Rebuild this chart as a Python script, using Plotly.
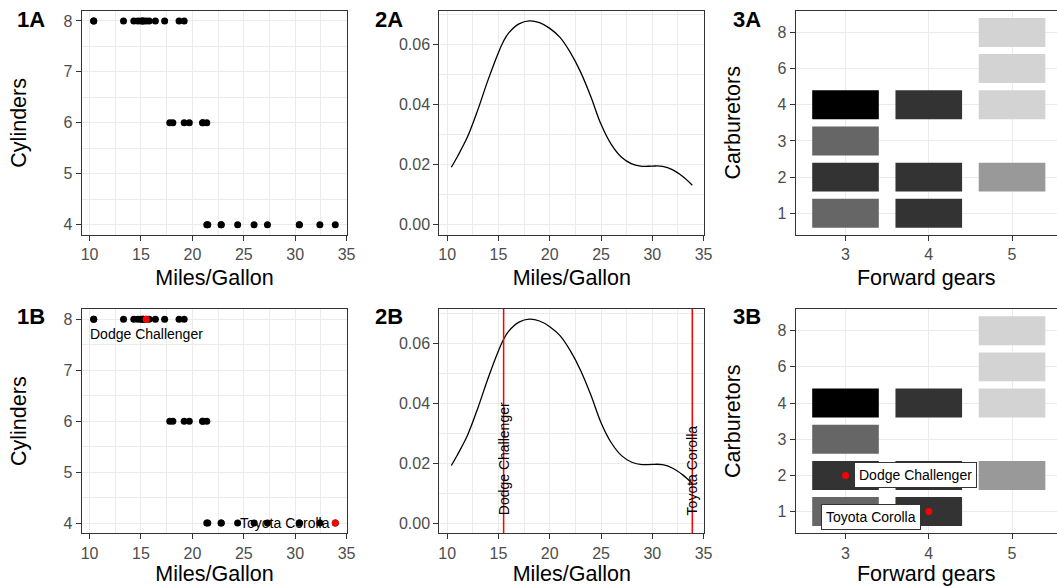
import plotly.graph_objects as go

# ---------------- data (mtcars subset) ----------------
cars = ["Mazda RX4", "Mazda RX4 Wag", "Datsun 710", "Hornet 4 Drive", "Hornet Sportabout",
        "Valiant", "Duster 360", "Merc 240D", "Merc 230", "Merc 280", "Merc 280C",
        "Merc 450SE", "Merc 450SL", "Merc 450SLC", "Cadillac Fleetwood",
        "Lincoln Continental", "Chrysler Imperial", "Fiat 128", "Honda Civic",
        "Toyota Corolla", "Toyota Corona", "Dodge Challenger", "AMC Javelin",
        "Camaro Z28", "Pontiac Firebird", "Fiat X1-9", "Porsche 914-2", "Lotus Europa",
        "Ford Pantera L", "Ferrari Dino", "Maserati Bora", "Volvo 142E"]
mpg = [21.0, 21.0, 22.8, 21.4, 18.7, 18.1, 14.3, 24.4, 22.8, 19.2, 17.8, 16.4, 17.3, 15.2,
       10.4, 10.4, 14.7, 32.4, 30.4, 33.9, 21.5, 15.5, 15.2, 13.3, 19.2, 27.3, 26.0, 30.4,
       15.8, 19.7, 15.0, 21.4]
cyl = [6, 6, 4, 6, 8, 6, 8, 4, 4, 6, 6, 8, 8, 8, 8, 8, 8, 4, 4, 4, 4, 8, 8, 8, 8, 4, 4, 4,
       8, 6, 8, 4]
gear = [4, 4, 4, 3, 3, 3, 3, 4, 4, 4, 4, 3, 3, 3, 3, 3, 3, 4, 4, 4, 3, 3, 3, 3, 3, 4, 5, 5,
        5, 5, 5, 4]
carb = [4, 4, 1, 1, 2, 1, 4, 2, 2, 4, 4, 3, 3, 3, 4, 4, 4, 1, 2, 1, 1, 2, 2, 4, 2, 1, 2, 2,
        4, 6, 8, 2]

highlight = ["Dodge Challenger", "Toyota Corolla"]

# density curve of mpg
density_x = [10.4, 11, 12, 13, 14, 15, 15.5, 16, 17, 18, 19, 20, 21, 22, 23, 24, 25, 26,
             27, 28, 29, 30, 31, 32, 33, 33.9]
density_y = [0.0192, 0.0228, 0.0295, 0.0385, 0.0485, 0.0575, 0.0613, 0.0640, 0.0670,
             0.0680, 0.0674, 0.0655, 0.0625, 0.0575, 0.0510, 0.0428, 0.0335, 0.0268,
             0.0225, 0.0203, 0.0195, 0.0196, 0.0195, 0.0183, 0.0160, 0.0132]

# tiles: gears x carburetors, shaded by number of cars
tile_gear = [3, 3, 3, 3, 4, 4, 4, 5, 5, 5, 5]
tile_carb = [1, 2, 3, 4, 1, 2, 4, 2, 4, 6, 8]
tile_count = [3, 4, 3, 5, 4, 4, 4, 2, 1, 1, 1]

gear_levels = [3, 4, 5]
carb_levels = [1, 2, 3, 4, 6, 8]
mpg_ticks = [10, 15, 20, 25, 30, 35]
cyl_ticks = [4, 5, 6, 7, 8]
dens_ticks = [0.0, 0.02, 0.04, 0.06]

# ---------------- styling ----------------
FONT = "Liberation Sans, Arial, sans-serif"
TICKF = dict(family=FONT, size=16, color="#4d4d4d")
TITLEF = dict(family=FONT, size=21.5, color="#000000")
GRID = "#ebebeb"
BORDER = "#333333"
TILE = 0.8

WT = 1057           # target picture width (positions below are in its pixels)
W, H = 1065, 586    # figure size
xdom = [[80.7 / WT, 346.7 / WT], [438.7 / WT, 704.0 / WT], [795.3 / WT, 1.0]]
ydom = [[1 - 235.0 / H, 1 - 10.7 / H], [1 - 533.3 / H, 1 - 309.0 / H]]

hl_idx = [cars.index(c) for c in highlight]
hl_mpg = [mpg[i] for i in hl_idx]
hl_cyl = [cyl[i] for i in hl_idx]
hl_gear = [gear[i] for i in hl_idx]
carb_pos = {c: i + 1 for i, c in enumerate(carb_levels)}
hl_carbpos = [carb_pos[carb[i]] for i in hl_idx]
tile_pos = [carb_pos[c] for c in tile_carb]

cscale = [[0.0, "#d3d3d3"], [0.25, "#999999"], [0.5, "#666666"], [0.75, "#333333"],
          [1.0, "#000000"]]

fig = go.Figure()


def tiles(xa, ya):
    return go.Bar(x=tile_gear, y=[TILE] * len(tile_pos), base=[p - TILE / 2 for p in tile_pos],
                  width=TILE, marker=dict(color=tile_count, colorscale=cscale, cmin=1, cmax=5,
                                          line=dict(width=0)),
                  xaxis=xa, yaxis=ya, hoverinfo="skip", showlegend=False)


def density(xa, ya):
    return go.Scatter(x=density_x, y=density_y, mode="lines",
                      line=dict(color="black", width=1.3, shape="spline", smoothing=1.0),
                      xaxis=xa, yaxis=ya, hoverinfo="skip", showlegend=False)


# ---- row A ----
fig.add_trace(go.Scatter(x=mpg, y=cyl, mode="markers", marker=dict(color="black", size=7),
                         xaxis="x", yaxis="y", hoverinfo="skip", showlegend=False))
fig.add_trace(density("x2", "y2"))
fig.add_trace(tiles("x3", "y3"))

# ---- row B ----
fig.add_trace(go.Scatter(x=mpg, y=cyl, mode="markers", marker=dict(color="black", size=7),
                         xaxis="x4", yaxis="y4", hoverinfo="skip", showlegend=False))
fig.add_trace(go.Scatter(x=hl_mpg, y=hl_cyl, mode="markers", marker=dict(color="red", size=7),
                         xaxis="x4", yaxis="y4", hoverinfo="skip", showlegend=False))
fig.add_trace(density("x5", "y5"))
fig.add_trace(tiles("x6", "y6"))
fig.add_trace(go.Scatter(x=hl_gear, y=hl_carbpos, mode="markers",
                         marker=dict(color="red", size=7),
                         xaxis="x6", yaxis="y6", hoverinfo="skip", showlegend=False))


def axis(dom, anchor, rng, ticks, minor=None, title=None, fmt=None, ticktext=None,
         mirror=True, standoff=7):
    d = dict(domain=dom, anchor=anchor, range=rng, tickmode="array", tickvals=ticks,
             showgrid=True, gridcolor=GRID, gridwidth=1.4, zeroline=False,
             showline=True, linecolor=BORDER, linewidth=1, mirror=mirror,
             ticks="outside", ticklen=5, tickcolor=BORDER, tickwidth=1, tickfont=TICKF)
    if minor:
        d["minor"] = dict(dtick=minor, showgrid=True, gridcolor=GRID, gridwidth=0.7, ticks="")
    if ticktext:
        d["ticktext"] = ticktext
    if fmt:
        d["tickformat"] = fmt
    if title:
        d["title"] = dict(text=title, font=TITLEF, standoff=standoff)
    return d


xr = [9.225, 35.075]
gr = [2.4, 5.54]
cr = [0.4, 6.6]
cpos = list(range(1, len(carb_levels) + 1))
ctext = [str(c) for c in carb_levels]
layout = dict(
    width=W, height=H, autosize=False, margin=dict(l=0, r=0, t=0, b=0, pad=0),
    paper_bgcolor="white", plot_bgcolor="white", showlegend=False, barmode="overlay",
    font=dict(family=FONT),
    xaxis=axis(xdom[0], "y", xr, mpg_ticks, 2.5, "Miles/Gallon"),
    yaxis=axis(ydom[0], "x", [3.8, 8.2], cyl_ticks, 0.5, "Cylinders", standoff=30),
    xaxis2=axis(xdom[1], "y2", xr, mpg_ticks, 2.5, "Miles/Gallon"),
    yaxis2=axis(ydom[0], "x2", [-0.0034, 0.0714], dens_ticks, 0.01, None, ".2f"),
    xaxis3=axis(xdom[2], "y3", gr, gear_levels, None, "Forward gears"),
    yaxis3=axis(ydom[0], "x3", cr, cpos, None, "Carburetors", ticktext=ctext, mirror=False,
                standoff=30),
    xaxis4=axis(xdom[0], "y4", xr, mpg_ticks, 2.5, "Miles/Gallon"),
    yaxis4=axis(ydom[1], "x4", [3.8, 8.2], cyl_ticks, 0.5, "Cylinders", standoff=30),
    xaxis5=axis(xdom[1], "y5", xr, mpg_ticks, 2.5, "Miles/Gallon"),
    yaxis5=axis(ydom[1], "x5", [-0.0034, 0.0714], dens_ticks, 0.01, None, ".2f"),
    xaxis6=axis(xdom[2], "y6", gr, gear_levels, None, "Forward gears"),
    yaxis6=axis(ydom[1], "x6", cr, cpos, None, "Carburetors", ticktext=ctext, mirror=False,
                standoff=30),
)
fig.update_layout(**layout)

# vertical lines in 2B
for v in hl_mpg:
    fig.add_shape(type="line", xref="x5", yref="y5 domain", x0=v, x1=v, y0=0, y1=1,
                  line=dict(color="red", width=1.5), layer="above")

ann = []
# panel tags
tags = [("1A", 14, 20), ("2A", 372, 20), ("3A", 731, 20),
        ("1B", 14, 316.5), ("2B", 372, 316.5), ("3B", 731, 316.5)]
for t, px, py in tags:
    ann.append(dict(text="<b>%s</b>" % t, xref="paper", yref="paper", x=px / WT, y=1 - py / H,
                    xanchor="left", yanchor="middle", showarrow=False,
                    font=dict(family=FONT, size=22, color="black")))

lab = dict(family=FONT, size=14, color="black")
# 1B labels
ann.append(dict(text=highlight[0], x=hl_mpg[0], y=hl_cyl[0], xref="x4", yref="y4",
                xanchor="center", yanchor="top", yshift=-5, showarrow=False, font=lab))
ann.append(dict(text=highlight[1], x=hl_mpg[1], y=hl_cyl[1], xref="x4", yref="y4",
                xanchor="right", yanchor="middle", xshift=-3, showarrow=False, font=lab))
# 2B labels
for name, v in zip(highlight, hl_mpg):
    ann.append(dict(text=name, x=v, y=0, xref="x5", yref="y5", textangle=-90,
                    xanchor="center", yanchor="bottom", yshift=6, showarrow=False, font=lab))
# 3B labels
ann.append(dict(text=highlight[0], x=hl_gear[0], y=hl_carbpos[0], xref="x6", yref="y6",
                xanchor="left", yanchor="middle", xshift=8, showarrow=False, font=lab,
                bgcolor="white", bordercolor="#333333", borderwidth=1, borderpad=4))
ann.append(dict(text=highlight[1], x=hl_gear[1], y=hl_carbpos[1], xref="x6", yref="y6",
                xanchor="right", yanchor="middle", xshift=-8, yshift=-5, showarrow=False,
                font=lab, bgcolor="white", bordercolor="#333333", borderwidth=1, borderpad=4))
fig.update_layout(annotations=ann)

fig.write_html("out.html", config={"responsive": False})
